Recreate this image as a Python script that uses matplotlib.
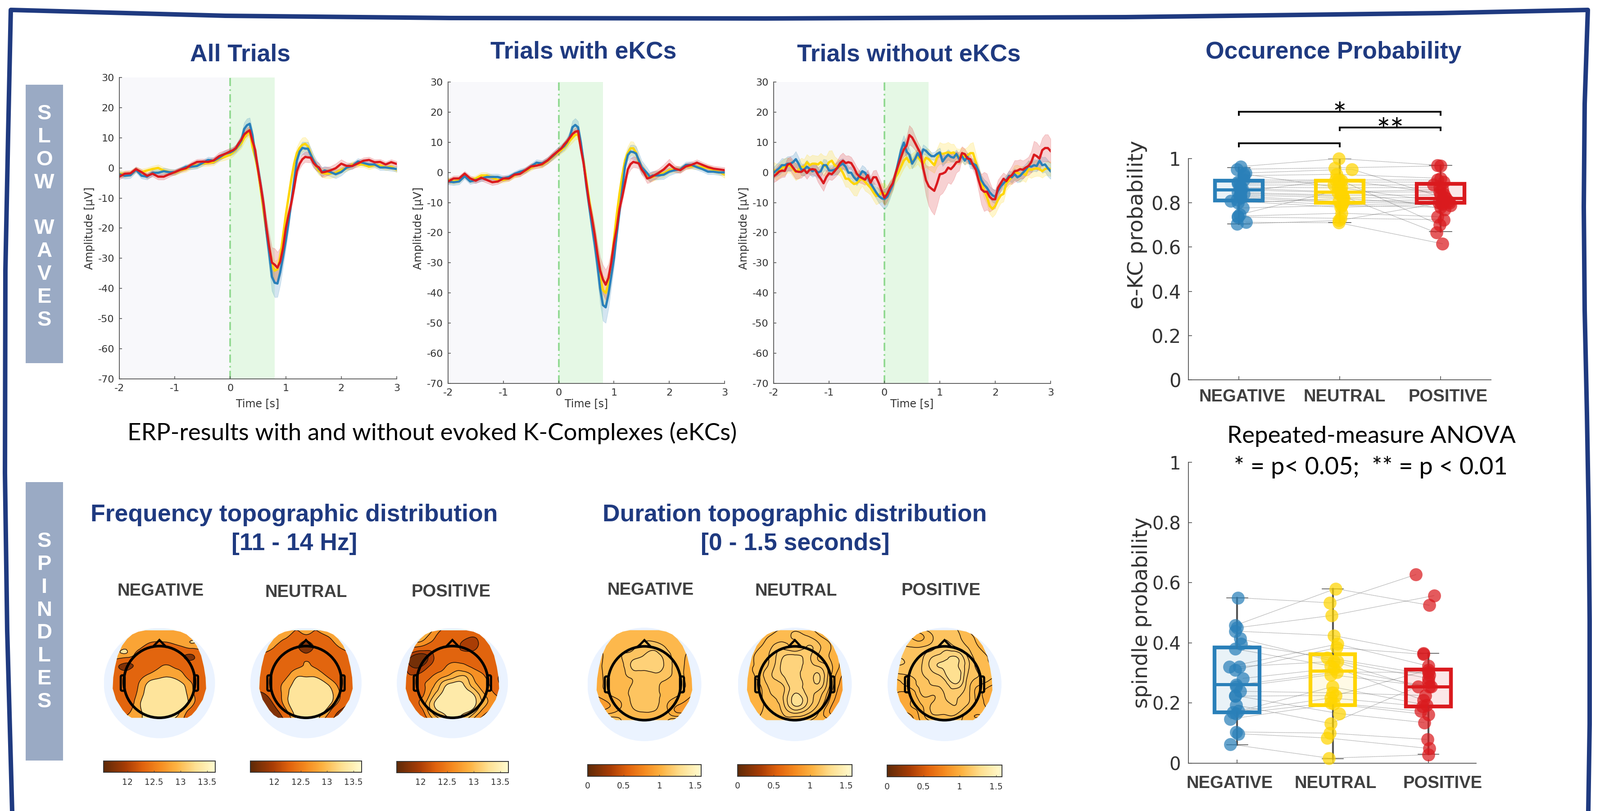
# ERP, occurrence probability and spindle topography summary panel
import numpy as np
import matplotlib
matplotlib.use("Agg")
import matplotlib.pyplot as plt
import matplotlib.tri as mtri
from matplotlib.cm import ScalarMappable
from matplotlib.colors import LinearSegmentedColormap, Normalize
from matplotlib.patches import Ellipse, FancyBboxPatch, PathPatch, Polygon
from matplotlib.path import Path

plt.rcParams['axes.unicode_minus'] = False
plt.rcParams['font.family'] = 'DejaVu Sans'

W, H = 3553, 1800
NAVY = '#1F3A80'
BAND = '#9AAAC4'
DARK = '#404040'
BLUE, YELLOW, RED = '#2A80B9', '#FFD500', '#DA1A1E'
ARIAL = 'Liberation Sans'

conditions = ['NEGATIVE', 'NEUTRAL', 'POSITIVE']

# time grids of the ERP traces [s]
t_coarse = np.r_[np.arange(-20, 0) * 0.1, np.arange(0, 34) * 0.05, np.arange(17, 31) * 0.1]
t_fine = np.arange(101) * 0.05 - 2

# all trials [uV]
all_blue = [-2.1, -2.6, -2.4, -0.6, -2.6, -2.9, -1.6, -1.6, -1.1, -1.4, -1.4, -0.6, 0.4, 0.4, 0.65, 1.65, 2.65, 2.4, 3.4, 4.65,
            5.15, 5.65, 6.4, 7.65, 9.15, 12.9, 14.15, 14.65, 10.9, 4.4, -0.1, -6.1, -12.6, -21.1, -28.1, -36.1, -38.1, -38.35, -34.6, -29.6,
            -24.1, -18.1, -11.1, -4.1, 2.4, 5.4, 6.65, 6.4, 6.4, 4.4, 2.4, 0.9, -0.35, -1.35,
            -0.85, -1.35, -2.1, -1.35, 0.15, 0.65, 2.15, 1.65, 1.15, 1.15, 0.15, 0.15, -0.1, -0.35]
all_yellow = [-1.85, -2.1, -1.85, -0.6, -1.35, -0.85, -0.35, 0.0, -0.85, -1.35, -1.6, -0.85, -0.35, 0.65, 0.9, 1.4, 1.65, 1.9, 3.15, 3.65,
              4.4, 5.15, 6.15, 7.15, 8.15, 9.9, 11.4, 11.9, 6.9, 3.4, -1.1, -7.6, -14.6, -21.1, -27.1, -32.1, -34.1, -33.6, -29.6, -22.6,
              -15.6, -9.6, -3.6, 1.4, 4.9, 6.65, 7.65, 8.0, 7.15, 4.65, 2.4, 0.4, -1.1, -1.6,
              -1.85, -1.85, -1.6, -0.6, -0.1, 1.15, 1.15, 1.15, 0.4, 0.9, 0.9, 0.15, 0.4, -0.6]
all_red = [-2.9, -1.9, -1.8, -0.4, -1.4, -2.6, -1.9, -2.9, -2.9, -2.1, -1.4, -0.6, -0.1, 1.1, 2.0, 2.1, 2.0, 2.5, 3.9, 4.6,
           5.5, 5.9, 6.6, 8.1, 9.4, 11.1, 11.9, 12.5, 8.9, 5.9, -0.6, -6.1, -12.1, -19.6, -26.1, -31.4, -32.1, -33.1, -31.1, -26.6,
           -20.1, -15.6, -11.6, -6.6, -1.1, 1.4, 2.9, 3.65, 3.5, 3.4, 1.65, 0.65, 0.15, -1.5,
           -1.35, -0.85, -0.1, 1.4, 0.65, 0.65, 1.5, 2.4, 2.65, 1.9, 2.0, 1.15, 1.9, 1.3]
all_sem_blue = [1, 1, 1, 0.9, 0.9, 1, 1, 1, 1.1, 1, 0.9, 0.8, 0.8, 0.9, 0.9, 0.9, 1, 1, 1, 1.1,
                1.1, 1.2, 1.3, 1.5, 1.9, 2.1, 2.2, 2.0, 1.6, 1.6, 2, 2.6, 3, 3.6, 4.3, 4.7, 4.8, 4.5, 4.2, 3.5,
                3, 2.5, 2, 1.7, 1.6, 1.8, 2, 2.2, 2.2, 2.2, 2, 1.8, 1.6, 1.5,
                1.4, 1.4, 1.4, 1.2, 1.1, 1, 1, 1, 0.9, 0.9, 0.9, 0.9, 0.9, 0.9]
all_sem_yellow = [1, 1, 0.9, 0.9, 1, 0.9, 1, 1.1, 1, 1, 0.9, 0.9, 1, 1, 0.9, 0.9, 1, 1.1, 1, 1.1,
                  1.2, 1.3, 1.4, 1.5, 1.6, 1.6, 1.5, 1.5, 1.4, 1.5, 1.7, 2, 2.4, 2.8, 3, 3.1, 3.2, 3.2, 3, 2.6,
                  2.4, 2.2, 2, 1.9, 2, 2.2, 2.4, 2.2, 2, 1.8, 1.6, 1.4, 1.3, 1.4,
                  1.5, 1.6, 1.4, 1.1, 1, 1, 0.9, 0.9, 0.9, 0.9, 0.9, 0.9, 0.9, 0.9]
all_sem_red = [0.9, 0.9, 0.9, 0.8, 0.9, 0.9, 1, 1, 1, 0.9, 0.8, 0.8, 0.8, 0.9, 0.9, 0.9, 0.9, 1, 1.2, 1.2,
               1.1, 1.0, 1.0, 1.1, 1.2, 1.3, 1.4, 1.4, 1.3, 1.3, 1.5, 2, 2.6, 3.4, 4.4, 5.0, 5.4, 5.2, 4.6, 3.8,
               3, 2.4, 2, 1.8, 1.7, 1.7, 1.7, 1.7, 1.7, 1.6, 1.6, 1.5, 1.5, 1.6,
               1.6, 1.3, 1.5, 1.4, 1.1, 1, 1, 1, 1, 0.9, 0.9, 0.9, 0.9, 0.9]

# trials with eKCs [uV]
with_blue = [-3, -3.25, -3, -1.25, -3, -2.5, -2, -1.5, -1.5, -1.5, -2, -1.5, -0.5, 0.25, 0.75, 2, 3.25, 3, 4, 5.5,
             7.25, 8, 8.75, 10, 11.75, 15, 15.75, 15, 10, 3.5, -4.5, -11, -17.5, -23.5, -30.5, -38.5, -44, -44.75, -40.5, -34.5,
             -28.5, -20.5, -13, -5.5, 2, 5.75, 6.9, 6.75, 6.25, 4, 1.75, 0.75, -0.25, -1.5,
             -1, -1, -0.75, 0.25, 0.75, 1, 2.5, 2.5, 1.75, 1.1, 0.25, 0.25, 0, 0]
with_yellow = [-2.5, -3, -2.5, -1, -2.5, -2, -1, -1, -1.75, -2.5, -2.5, -2, -1, -0.25, 0.5, 1.5, 2.5, 2.5, 3.75, 5.25,
               6.75, 7.5, 8.25, 9.25, 10.5, 11.5, 12.5, 12.5, 8.5, 4, -2.5, -9, -15, -21, -28, -35, -39, -40, -37, -30,
               -22, -14, -7, -1, 4, 6.5, 8, 8, 6.5, 3.5, 1.5, 0.5, -1, -1.75,
               -1.5, -0.75, -0.25, 0.75, 1, 1, 2, 2, 2, 1.75, 1.5, 0.75, 0.25, -0.75]
with_red = [-3, -2, -2, -0.4, -2, -2.75, -1.75, -2.5, -3.25, -3, -2, -2, -0.75, -0.5, 0.75, 2, 2.25, 2.75, 4, 5.75,
            7.25, 8, 9.25, 10.25, 11.5, 12.75, 13.5, 13.75, 8, 3, -3.5, -10, -15, -20.5, -27, -32.5, -35.5, -37.25, -35, -30,
            -23.5, -18.5, -12, -8, -3.5, 1, 2.75, 3.5, 3.25, 3, 1, -0.25, -2, -1.75,
            -1.25, -0.25, 1, 2.75, 1.25, 0.75, 2, 2.5, 3.25, 2.5, 1.75, 1.25, 1, 0.75]
with_sem_blue = [1, 1, 1, 0.9, 0.9, 0.9, 1, 1, 1, 1, 0.9, 0.8, 0.8, 0.9, 0.9, 0.9, 1, 1, 1, 1.2,
                 1.3, 1.3, 1.4, 1.5, 1.8, 2.1, 2.2, 2.0, 1.7, 1.6, 2, 2.6, 3.2, 3.8, 4.4, 4.9, 5.2, 5.2, 4.8, 4,
                 3.2, 2.6, 2.1, 1.8, 1.7, 1.9, 2.2, 2.4, 2.4, 2.4, 2.2, 2, 1.8, 1.6,
                 1.4, 1.4, 1.5, 1.3, 1.1, 1, 1, 1.1, 0.9, 0.9, 0.9, 0.9, 0.9, 0.9]
with_sem_yellow = [0.9, 0.9, 0.9, 0.8, 0.9, 0.9, 1, 1, 0.9, 1, 0.9, 0.9, 0.9, 1, 0.9, 0.9, 1, 1, 1, 1.1,
                   1.2, 1.2, 1.3, 1.4, 1.5, 1.6, 1.6, 1.5, 1.4, 1.5, 1.7, 2.2, 2.8, 3.4, 4, 4.5, 4.8, 4.8, 4.4, 3.6,
                   3, 2.6, 2.2, 2, 2, 2.1, 2.3, 2.2, 2, 1.7, 1.5, 1.4, 1.3, 1.3,
                   1.4, 1.4, 1.3, 1.1, 1, 1, 0.9, 0.9, 0.9, 0.9, 0.9, 0.9, 0.9, 1.1]
with_sem_red = [0.9, 0.9, 0.9, 0.8, 0.9, 0.9, 1, 1, 1, 0.9, 0.9, 0.8, 0.8, 0.9, 0.9, 0.9, 0.9, 1, 1.1, 1.1,
                1.1, 1.0, 1.0, 1.1, 1.2, 1.2, 1.3, 1.3, 1.2, 1.3, 1.5, 2, 2.6, 3.2, 3.8, 4.4, 4.8, 5, 4.6, 3.8,
                3, 2.4, 2, 1.8, 1.8, 1.8, 1.8, 1.8, 1.7, 1.7, 1.7, 1.6, 1.6, 1.6,
                1.5, 1.3, 1.6, 1.7, 1.1, 1, 1, 1, 1, 0.9, 0.9, 0.9, 0.9, 0.9]

# trials without eKCs [uV]
without_blue = [-0.1, 0.65, 1.4, 2.4, 2.4, 2.9, 2.9, 3.4, 4.4, 2.9, 0.9, 0.9, 1.9, 1.15, 0.4, 0.9, -0.1, 0.4, 2.4, 2.4,
                0.65, 0.65, 0.9, 1.4, 2.4, 2.9, 1.9, -0.1, -0.1, -1.6, -2.6, -1.1, 0.4, -0.1, -1.6, -3.6, -5.1, -6.6, -7.85, -8.6,
                -8.85, -8.1, -6.1, -4.1, -0.6, 3.4, 7.4, 9.9, 6.9, 5.9, 2.9, 4.4, 6.4, 4.9, 7.65, 7.15, 6.15, 5.4, 5.4, 6.15,
                6.65, 3.65, 4.9, 5.9, 5.15, 4.9, 6.15, 4.4, 5.4, 3.9, 5.15, 2.9, 2.9, 2.4, 0.4, -2.6, -4.1, -5.1, -6.6, -7.6,
                -8.1, -6.1, -4.6, -3.6, -2.6, -1.1, -1.6, -0.6, -1.6, -1.1, -0.1, 0.9, 2.15, 1.9, 2.4, 2.15, 3.9, 2.4, 2.65, 1.4, 0.4]
without_yellow = [0.9, 0.15, 0.65, 1.4, 1.9, 2.4, 2.15, 1.15, 0.15, 0.9, 1.9, 1.65, 3.4, 2.4, 2.9, 2.9, 2.65, 3.4, 2.4, 1.9,
                  3.4, 3.9, 2.4, 1.9, 1.4, -0.1, -2.1, -2.1, -3.1, -3.85, -3.6, -2.6, -2.1, -3.1, -4.1, -5.1, -6.6, -7.85, -7.6, -6.6,
                  -7.1, -7.6, -5.6, -4.1, -1.6, -0.1, 1.9, 3.9, 4.9, 3.4, 3.9, 4.4, 5.4, 3.9, 2.9, 4.9, 4.4, 3.4, 2.4, 4.9,
                  6.4, 6.15, 6.4, 6.65, 6.4, 6.65, 5.4, 5.15, 5.9, 5.15, 5.65, 6.4, 6.4, 3.4, -0.1, -3.1, -6.1, -8.1, -11.1, -12.1,
                  -11.1, -9.1, -7.6, -7.1, -3.6, -2.6, -1.6, -0.1, -0.1, -0.6, -0.35, -0.85, 1.15, 0.9, 1.15, 1.4, 1.15, 0.4, 1.15, 1.4, 1.15]
without_red = [-1.3, -0.6, 0.3, 0.6, 0.5, 2.6, 2.9, 1.6, 0.4, 0.2, 0.2, 0.9, -0.2, 0.9, 1.1, 0.9, -0.8, -2.1, -3.6, -1.6,
               -0.3, -0.6, 0.4, 1.6, 3.1, 3.9, 3.1, 3.4, 3.1, 1.6, -0.4, -1.4, -1.9, -2.4, -0.9, -3.4, -1.6, -1.6, -3.6, -6.1,
               -8.4, -7.1, -5.1, -3.6, -0.4, 2.4, 5.1, 7.6, 8.9, 12.4, 11.6, 9.9, 8.1, 6.4, 1.4, -2.6, -4.6, -5.4, -6.1, -3.6,
               -0.6, -0.4, 0.1, 1.6, 1.1, 2.1, 3.4, 3.6, 6.4, 6.1, 4.6, 4.4, 2.4, 0.9, -2.6, -5.6, -6.4, -6.4, -8.1, -8.9,
               -8.9, -5.1, -3.6, -2.1, -2.9, -1.6, -0.9, 0.4, 0.6, 1.1, 0.9, 1.6, 2.1, 3.4, 5.9, 5.4, 4.6, 7.4, 8.1, 8.1, 7.1]
without_sem_blue = [1.8, 2.0, 2.2, 2.3, 2.1, 2.4, 2.5, 2.3, 2.6, 2.2, 1.9, 2.0, 2.2, 1.8, 1.9, 2.0, 1.8, 1.9, 2.0, 1.8,
                    1.6, 1.7, 1.8, 2.0, 1.9, 1.8, 1.7, 1.9, 2.0, 1.8, 1.7, 1.9, 2.0, 1.8, 1.7, 2.0, 2.1, 2.0, 2.3, 2.6,
                    3.4, 3.0, 2.6, 1.8, 1.7, 1.6, 2.2, 2.4, 2.2, 2.0, 1.7, 1.8, 1.6, 1.5, 1.6, 1.4, 1.3, 1.2, 1.3, 1.4,
                    1.5, 1.6, 1.8, 1.7, 1.6, 1.5, 1.4, 1.5, 1.6, 1.4, 1.5, 1.6, 1.7, 1.8, 1.7, 1.6, 1.8, 2.0, 2.0, 2.2,
                    2.2, 2.0, 1.8, 1.7, 1.6, 1.7, 1.8, 1.9, 1.8, 2.0, 2.0, 1.9, 1.8, 1.9, 2.0, 1.9, 2.2, 2.6, 2.5, 2.7, 2.6]
without_sem_yellow = [2.5, 2.7, 2.4, 2.6, 2.8, 2.5, 2.3, 2.6, 2.8, 3.0, 2.9, 2.7, 2.6, 2.8, 2.9, 2.7, 2.8, 3.0, 3.2, 3.5,
                      3.8, 3.4, 2.9, 2.6, 2.5, 2.6, 2.7, 2.8, 3.2, 3.8, 4.2, 3.2, 2.4, 3.0, 2.6, 2.4, 2.6, 2.8, 2.6, 3.0,
                      3.6, 3.0, 2.5, 2.2, 2.0, 2.2, 2.4, 2.6, 2.2, 2.2, 2.4, 2.6, 2.6, 2.4, 2.2, 3.0, 3.4, 3.0, 2.6, 3.0,
                      3.6, 3.4, 3.2, 3.4, 3.0, 2.8, 2.6, 2.6, 2.4, 2.6, 2.8, 3.2, 3.6, 3.0, 2.4, 2.2, 2.4, 2.4, 2.6, 2.8,
                      2.8, 2.8, 2.6, 2.6, 2.4, 2.2, 2.2, 2.4, 2.6, 2.6, 2.4, 2.4, 2.6, 2.8, 2.6, 2.6, 2.4, 2.2, 2.2, 2.4, 2.4]
without_sem_red = [2.0, 2.2, 2.4, 2.2, 2.0, 2.1, 2.3, 2.4, 2.6, 2.2, 2.0, 1.8, 2.0, 1.8, 1.9, 2.0, 2.4, 2.6, 2.6, 2.2,
                   2.0, 2.0, 2.2, 2.4, 2.6, 2.6, 2.4, 2.2, 2.0, 2.0, 2.2, 2.0, 1.8, 1.8, 1.8, 2.0, 2.2, 2.4, 2.2, 2.4,
                   2.6, 2.4, 2.2, 2.0, 1.6, 1.6, 1.8, 2.4, 3.0, 3.2, 3.0, 2.4, 2.0, 2.0, 3.6, 5.0, 6.5, 7.5, 8.0, 7.5,
                   7.0, 6.5, 5.5, 5.0, 5.0, 4.5, 3.5, 3.0, 2.2, 1.8, 1.6, 1.6, 1.6, 2.2, 3.5, 5.0, 6.5, 6.0, 5.0, 3.5,
                   3.0, 2.6, 2.4, 2.0, 2.0, 2.2, 3.0, 3.6, 3.4, 3.2, 3.0, 2.8, 3.0, 3.5, 4.5, 4.5, 4.0, 4.0, 4.5, 4.5, 4.0]

# e-KC probability per subject, same order in the three conditions
ekc_neg = [.964, .952, .935, .93, .923, .905, .894, .888, .882, .87, .865, .858, .85, .847, .841, .835, .83, .823, .815, .809, .80, .777, .747, .74, .736, .712, .704]
ekc_neu = [1.0, .958, .952, .87, .929, .905, .90, .894, .882, .87, .85, .847, .906, .835, .83, .823, .806, .80, .79, .78, .82, .788, .86, .753, .73, .71, .72]
ekc_pos = [.97, .967, .82, .80, .911, .905, .70, .894, .882, .87, .86, .85, .84, .835, .665, .823, .815, .806, .80, .794, .788, .78, .77, .738, .724, .615, .80]
ekc_jit_neg = [.02, -.02, .065, .05, .05, .05, -.01, -.01, .01, .02, .03, .02, .02, -.01, .05, .01, .02, .02, -.02, -.08, -.01, .04, .01, -.01, -.01, .07, -.02]
ekc_jit_neu = [-.01, -.05, .12, -.02, -.03, -.04, .02, -.01, -.06, .02, .01, -.02, -.01, .01, .03, .03, -.01, .03, .02, .01, .04, .02, .01, .02, .01, -.01, -.01]
ekc_jit_pos = [-.03, 0, .05, .09, 0, -.03, -.01, .03, -.07, -.01, .02, -.01, .03, 0, -.04, .05, .02, .08, -.02, .02, .1, 0, .04, -.03, .03, .02, .01]
ekc_stats = {'q1': [.81, .80, .80], 'med': [.86, .85, .82], 'q3': [.90, .90, .885], 'lo': [.705, .71, .67], 'hi': [.96, 1.0, .97]}

# spindle probability per subject
spi_neg = [.55, .458, .45, .439, .414, .396, .38, .321, .321, .31, .282, .26, .254, .239, .225, .223, .193, .173, .169, .165, .147, .104, .098, .063]
spi_neu = [.533, .58, .491, .424, .339, .351, .323, .396, .339, .384, .315, .303, .294, .234, .165, .225, .132, .254, .217, .201, .197, .10, .084, .017]
spi_pos = [.627, .525, .557, .366, .254, .294, .209, .323, .282, .362, .254, .302, .254, .225, .135, .31, .27, .193, .189, .173, .161, .079, .049, .028]
spi_jit_neg = [.006, -.02, 0, -.02, .03, .04, -.02, -.08, .02, -.02, .06, -.01, -.01, .03, -.02, -.02, -.01, .015, -.045, -.01, -.07, -.01, .015, -.07]
spi_jit_neu = [-.03, .03, -.01, .01, .01, -.06, -.02, .05, .05, .04, .01, .045, -.02, -.005, .07, .03, -.02, -.005, -.02, -.02, .01, -.03, -.06, -.04]
spi_jit_pos = [-.13, .01, .06, -.05, -.11, .01, -.05, 0, 0, -.05, .01, 0, .03, -.03, -.04, 0, 0, -.02, -.06, -.08, 0, -.01, .01, 0]
spi_stats = {'q1': [.169, .193, .189], 'med': [.262, .307, .255], 'q3': [.384, .363, .312], 'lo': [.062, .015, .03], 'hi': [.55, .58, .366]}

# topographic maps: values on a 9 x 11 scalp grid, top row = front of the head
grid_x = [-.92, -.6, -.4, -.2, 0, .2, .4, .6, .92]
grid_y = [1.0, .83, .66, .49, .32, .15, -.02, -.19, -.36, -.53, -.70]

freq_neg = [[12.9, 12.9, 12.9, 12.9, 12.9, 12.9, 12.9, 12.9, 12.9],
            [12.9, 12.9, 12.9, 12.85, 12.8, 12.85, 12.9, 12.9, 12.9],
            [12.9, 12.9, 12.75, 12.5, 12.4, 12.45, 12.6, 12.8, 12.9],
            [12.85, 12.8, 12.45, 12.35, 12.3, 12.3, 12.1, 11.95, 12.85],
            [12.7, 11.85, 12.2, 12.35, 12.55, 12.6, 12.4, 12.3, 12.65],
            [12.35, 12.3, 12.35, 12.65, 12.85, 12.9, 12.7, 12.4, 12.35],
            [12.3, 12.3, 12.55, 13.05, 13.2, 13.2, 13.05, 12.6, 12.3],
            [12.3, 12.3, 12.65, 13.2, 13.4, 13.4, 13.25, 12.65, 12.3],
            [12.3, 12.3, 12.8, 13.3, 13.5, 13.5, 13.25, 12.7, 12.2],
            [12.05, 12.5, 12.85, 13.2, 13.5, 13.2, 12.9, 12.2, 11.8],
            [12.8, 12.85, 12.9, 13.2, 13.4, 13.0, 12.85, 11.6, 11.6]]
freq_neu = [[12.9, 12.9, 12.9, 12.7, 12.6, 12.7, 12.9, 12.9, 12.9],
            [12.9, 12.9, 12.7, 12.45, 12.4, 12.45, 12.6, 12.9, 12.9],
            [12.9, 12.7, 12.4, 12.3, 11.6, 12.3, 12.4, 12.65, 12.9],
            [12.6, 12.35, 12.3, 12.3, 12.3, 12.3, 12.3, 12.3, 12.55],
            [12.35, 12.3, 12.3, 12.45, 12.65, 12.5, 12.3, 12.3, 12.3],
            [12.3, 12.3, 12.4, 12.85, 12.9, 12.85, 12.5, 12.3, 12.3],
            [12.3, 12.3, 12.7, 13.05, 13.2, 13.2, 12.95, 12.5, 12.3],
            [11.9, 12.2, 12.75, 13.2, 13.4, 13.4, 13.2, 12.65, 12.0],
            [11.6, 12.0, 12.7, 13.25, 13.5, 13.5, 13.15, 12.5, 11.7],
            [11.6, 11.7, 12.3, 13.1, 13.5, 13.25, 12.7, 11.9, 11.6],
            [11.6, 11.6, 11.9, 12.85, 13.4, 13.0, 12.2, 11.6, 11.6]]
freq_pos = [[12.9, 12.9, 12.9, 12.6, 12.3, 12.3, 12.3, 12.3, 12.3],
            [12.9, 12.9, 12.7, 12.3, 12.3, 12.2, 12.1, 12.3, 12.3],
            [12.9, 12.5, 12.3, 12.3, 12.3, 12.0, 12.0, 12.3, 12.3],
            [12.3, 11.7, 11.95, 12.3, 12.3, 12.3, 12.3, 12.3, 12.3],
            [12.25, 11.75, 12.1, 12.35, 12.6, 12.55, 12.4, 12.3, 12.3],
            [12.2, 12.15, 12.4, 12.65, 12.85, 12.95, 12.7, 12.45, 12.0],
            [12.1, 12.35, 12.65, 13.0, 13.2, 13.15, 12.85, 12.6, 11.9],
            [12.2, 12.3, 12.8, 13.15, 13.4, 13.35, 13.1, 12.75, 12.3],
            [12.3, 12.5, 13.0, 13.35, 13.5, 13.5, 13.2, 12.85, 12.4],
            [12.0, 12.2, 12.9, 13.15, 13.3, 13.2, 13.0, 12.55, 12.0],
            [11.9, 12.0, 12.5, 13.0, 13.1, 13.05, 12.6, 12.1, 11.8]]
dur_neg = [[1.05, 1.05, 1.05, 1.07, 1.07, 1.07, 1.05, 1.05, 1.05],
           [1.0, 1.05, 1.07, 1.07, 1.08, 1.07, 1.07, 1.05, 1.0],
           [.98, 1.06, 1.08, 1.09, 1.13, 1.14, 1.09, 1.06, 1.0],
           [.97, 1.06, 1.1, 1.14, 1.18, 1.2, 1.13, 1.06, .98],
           [.95, 1.06, 1.08, 1.19, 1.2, 1.21, 1.14, 1.06, .96],
           [.95, 1.06, 1.08, 1.12, 1.14, 1.15, 1.12, 1.06, .95],
           [.95, 1.06, 1.07, 1.11, 1.15, 1.12, 1.07, 1.06, .96],
           [.93, 1.03, 1.07, 1.12, 1.15, 1.12, 1.07, 1.03, .93],
           [.88, .95, 1.03, 1.11, 1.14, 1.12, 1.03, .95, .88],
           [.95, 1.05, 1.07, 1.08, 1.09, 1.08, 1.05, .98, .95],
           [1.2, 1.25, 1.1, 1.07, 1.1, 1.07, 1.1, 1.4, 1.5]]
dur_neu = [[.97, 1.0, 1.03, 1.05, 1.07, 1.05, 1.03, 1.0, .97],
           [1.0, 1.03, 1.06, 1.08, 1.11, 1.11, 1.07, 1.03, .98],
           [1.0, 1.05, 1.1, 1.13, 1.1, 1.15, 1.12, 1.06, .98],
           [1.03, 1.07, 1.12, 1.2, 1.22, 1.18, 1.1, 1.05, .97],
           [1.04, 1.07, 1.13, 1.22, 1.24, 1.18, 1.15, 1.08, .95],
           [1.06, 1.08, 1.15, 1.2, 1.24, 1.17, 1.21, 1.08, .92],
           [1.04, 1.05, 1.12, 1.15, 1.24, 1.18, 1.19, 1.06, .9],
           [1.03, 1.04, 1.1, 1.15, 1.26, 1.2, 1.13, 1.02, .88],
           [1.03, 1.04, 1.07, 1.14, 1.26, 1.2, 1.1, .98, .85],
           [1.03, 1.05, 1.07, 1.1, 1.13, 1.1, 1.05, .96, .97],
           [1.05, 1.05, 1.05, 1.07, 1.05, 1.05, 1.03, 1.1, 1.1]]
dur_pos = [[1.05, 1.07, 1.12, 1.14, 1.12, 1.1, 1.05, 1.03, 1.0],
           [1.08, 1.05, 1.04, 1.1, 1.14, 1.12, 1.07, 1.04, 1.0],
           [1.13, 1.1, 1.1, 1.13, 1.18, 1.15, 1.1, 1.05, 1.03],
           [1.15, 1.13, 1.14, 1.2, 1.23, 1.25, 1.15, 1.07, 1.05],
           [1.15, 1.14, 1.15, 1.23, 1.26, 1.26, 1.17, 1.08, 1.05],
           [1.07, 1.1, 1.14, 1.18, 1.23, 1.3, 1.15, 1.1, 1.05],
           [1.0, 1.07, 1.12, 1.15, 1.17, 1.23, 1.13, 1.05, .98],
           [1.02, 1.0, 1.1, 1.1, 1.15, 1.16, 1.12, 1.02, .93],
           [.98, 1.0, 1.05, 1.11, 1.13, 1.15, 1.1, 1.03, .93],
           [.92, .95, 1.03, 1.1, 1.1, 1.1, 1.03, 1.0, 1.03],
           [.9, .92, 1.0, 1.03, 1.07, 1.07, 1.03, 1.03, 1.03]]

levels_two = [11.5, 12.0, 12.62, 12.98, 13.7]
levels_many = [11.5, 11.85, 12.1, 12.5, 12.8, 12.98, 13.15, 13.7]
levels_dur = [.85, .95, 1.03, 1.1, 1.17, 1.25, 1.35, 1.45, 1.58]
levels_dur_fine = [.85, .95, 1.0, 1.05, 1.1, 1.15, 1.2, 1.25, 1.35, 1.45, 1.58]
freq_ticks = [12, 12.5, 13, 13.5]
dur_ticks = [0, .5, 1, 1.5]

topo_cmap = LinearSegmentedColormap.from_list('topo', [(0, '#5E2A08'), (.2, '#A83C05'), (.35, '#E0620D'), (.5, '#F58A1F'),
                                                       (.65, '#FDB241'), (.82, '#FEDF90'), (1, '#FFFBD0')])

fig = plt.figure(figsize=(W / 100, H / 100), dpi=100, facecolor='white')


def ax_px(x0, y0, x1, y1, **kw):
    return fig.add_axes([x0 / W, 1 - y1 / H, (x1 - x0) / W, (y1 - y0) / H], **kw)


# overlay in pixel coordinates for the frame and the free text
ov = fig.add_axes([0, 0, 1, 1], zorder=10, facecolor='none')
ov.set_xlim(0, W)
ov.set_ylim(H, 0)
ov.axis('off')


def label(x, y, s, **kw):
    ov.text(x, y, s, ha='center', va='center', **kw)


frame_x = [27, 16, 11, 12, 18, 24, 500, 1000, 1700, 2500, 3200, 3526, 3519, 3517, 3519, 3524, 3528, 3530, 3530, 3527]
frame_y = [1800, 1400, 1050, 600, 300, 22, 35, 40, 41, 38, 29, 22, 230, 459, 689, 918, 1148, 1378, 1607, 1800]
ov.plot(frame_x, frame_y, color=NAVY, lw=7.2, solid_joinstyle='round')

ov.add_patch(plt.Rectangle((57, 188), 83, 618, color=BAND, lw=0))
ov.add_patch(plt.Rectangle((57, 1070), 83, 618, color=BAND, lw=0))
label(98.5, 482, 'S\nL\nO\nW\n\nW\nA\nV\nE\nS', color='white', family=ARIAL, weight='bold', fontsize=34, linespacing=1.2)
label(98.5, 1380, 'S\nP\nI\nN\nD\nL\nE\nS', color='white', family=ARIAL, weight='bold', fontsize=34, linespacing=1.2)


def erp_panel(rect, blue, yellow, red, sem_b, sem_y, sem_r, t):
    ax = ax_px(*rect)
    ax.axvspan(-2, 0, color='#F8F8FB', lw=0, zorder=0)
    ax.axvspan(0, .8, color='#E5F8E5', lw=0, zorder=0)
    ax.axvline(0, color='#8FD88F', lw=2.6, ls=(0, (5, 2, 1, 2)), zorder=1)
    for y, s, c in ((yellow, sem_y, YELLOW), (blue, sem_b, BLUE), (red, sem_r, RED)):
        y, s = np.array(y), np.array(s)
        ax.fill_between(t, y - s, y + s, color=c, alpha=.2, lw=.8)
    for y, c in ((yellow, YELLOW), (blue, BLUE), (red, RED)):
        ax.plot(t, y, color=c, lw=3.6, solid_joinstyle='round')
    ax.set_xlim(-2, 3)
    ax.set_ylim(-70, 30)
    ax.set_xticks(range(-2, 4))
    ax.set_yticks(range(-70, 31, 10))
    ax.tick_params(direction='in', length=4, width=1.2, labelsize=16, labelcolor='#333333', color='#555555', pad=8)
    for side in ('top', 'right'):
        ax.spines[side].set_visible(False)
    for side in ('left', 'bottom'):
        ax.spines[side].set_color('#555555')
        ax.spines[side].set_linewidth(1.3)
    ax.set_xlabel('Time [s]', fontsize=17, color='#333333', va='center')
    ax.set_ylabel('Amplitude [µV]', fontsize=17.5, color='#333333', va='center')
    ax.xaxis.set_label_coords(rect[0] + 307, 896, transform=ov.transData)
    ax.yaxis.set_label_coords(rect[0] - 66, 507, transform=ov.transData)
    return ax


erp_panel((265, 172, 881, 841), all_blue, all_yellow, all_red, all_sem_blue, all_sem_yellow, all_sem_red, t_coarse)
erp_panel((995, 182, 1609, 851), with_blue, with_yellow, with_red, with_sem_blue, with_sem_yellow, with_sem_red, t_coarse)
erp_panel((1718, 182, 2333, 851), without_blue, without_yellow, without_red, without_sem_blue, without_sem_yellow, without_sem_red, t_fine)

title_kw = dict(color=NAVY, family=ARIAL, weight='bold', fontsize=38.5)
label(533, 122, 'All Trials', **title_kw)
label(1296, 116, 'Trials with eKCs', **title_kw)
label(2018, 121, 'Trials without eKCs', **title_kw)
label(2961, 116, 'Occurence Probability', **title_kw)
label(960, 961, 'ERP-results with and without evoked K-Complexes (eKCs)', color='black', family='Lato', fontsize=38.2)


def prob_panel(rect, xlim, neg, neu, pos, jit, stats, ylabel, ylab_x, ylab_y, fsize, lab_size):
    ax = ax_px(*rect, facecolor='none')
    xs = [1 + np.array(jit[0]), 2 + np.array(jit[1]), 3 + np.array(jit[2])]
    for i in range(len(neg)):
        ax.plot([xs[0][i], xs[1][i], xs[2][i]], [neg[i], neu[i], pos[i]], color='#777777', lw=.9, ls=(0, (1, 1)), zorder=1)
    for k, c in enumerate((BLUE, YELLOW, RED)):
        stat = dict(med=stats['med'][k], q1=stats['q1'][k], q3=stats['q3'][k], whislo=stats['lo'][k], whishi=stats['hi'][k], fliers=[])
        ax.bxp([stat], positions=[k + 1], widths=.47, capwidths=.22, showfliers=False, patch_artist=True, manage_ticks=False,
               boxprops=dict(edgecolor=c, facecolor=matplotlib.colors.to_rgba(c, .1), lw=6),
               medianprops=dict(color=c, lw=5, solid_capstyle='butt'),
               whiskerprops=dict(color='#555555', lw=3),
               capprops=dict(color='#555555', lw=1.2), zorder=2)
        ax.scatter(xs[k], (neg, neu, pos)[k], s=430, color=c, alpha=.72, lw=0, zorder=3)
    ax.set_xlim(*xlim)
    ax.set_ylim(0, 1)
    ax.set_xticks([1, 2, 3])
    ax.set_xticklabels([])
    ax.set_yticks([0, .2, .4, .6, .8, 1])
    ax.set_yticklabels(['0', '0.2', '0.4', '0.6', '0.8', '1'])
    ax.tick_params(direction='in', length=6, width=1.2, labelsize=fsize, labelcolor='#333333', color='#555555', pad=12)
    for side in ('top', 'right'):
        ax.spines[side].set_visible(False)
    for side in ('left', 'bottom'):
        ax.spines[side].set_color('#555555')
        ax.spines[side].set_linewidth(1.3)
    for sp in ax.collections:
        sp.set_clip_on(False)
    ax.set_ylabel(ylabel, fontsize=lab_size, color='#333333', va='center')
    ax.yaxis.set_label_coords(ylab_x, ylab_y, transform=ov.transData)
    return ax


ax_ekc = prob_panel((2639, 352, 3311, 843), (.5, 3.5), ekc_neg, ekc_neu, ekc_pos, (ekc_jit_neg, ekc_jit_neu, ekc_jit_pos),
                    ekc_stats, 'e-KC probability', 2526, 499, 30, 34)
ax_spi = prob_panel((2639, 1026, 3278, 1694), (.49, 3.5), spi_neg, spi_neu, spi_pos, (spi_jit_neg, spi_jit_neu, spi_jit_pos),
                    spi_stats, 'spindle probability', 2536, 1360, 29, 33)

# significance brackets
for x0, x1, y in ((1, 3, 1.212), (2, 3, 1.1415), (1, 2, 1.07)):
    ax_ekc.plot([x0, x0, x1, x1], [y - .014, y, y, y - .014], color='black', lw=2.8, clip_on=False, solid_joinstyle='miter')
ax_ekc.text(2, 1.19, '*', ha='center', va='center', fontsize=52, family='Lato', color='black')
ax_ekc.text(2.5, 1.12, '**', ha='center', va='center', fontsize=52, family='Lato', color='black')

for x, s in zip((2759, 2986, 3215), conditions):
    label(x, 881, s, color=DARK, family=ARIAL, weight='bold', fontsize=27.5)
for x, s in zip((2731, 2966, 3203), conditions):
    label(x, 1739, s, color=DARK, family=ARIAL, weight='bold', fontsize=27.5)
label(3045, 969, 'Repeated-measure ANOVA', color='black', family='Lato', fontsize=38)
label(3044, 1037, '* = p< 0.05;  ** = p < 0.01', color='black', family='Lato', fontsize=39)

# scalp outline of the coloured area, half widths at each height
scalp_y = [.955, .93, .88, .80, .68, .50, .29, .10, -.10, -.30, -.49, -.58, -.63]
scalp_w = [.25, .38, .49, .58, .67, .75, .80, .83, .84, .78, .66, .58, .50]
xx, yy = np.meshgrid(grid_x, grid_y)
tri_base = mtri.Triangulation(xx.ravel(), yy.ravel())
refiner = mtri.UniformTriRefiner(tri_base)
outline = list(zip(scalp_w, scalp_y)) + [(-w, y) for w, y in zip(scalp_w[::-1], scalp_y[::-1])]


def topo(cx, half, top, bottom, values, levels, vmin, vmax):
    ax = ax_px(cx - half, top, cx + half, bottom, facecolor='none')
    ax.set_xlim(-1, 1)
    ax.set_ylim(-1, 1)
    ax.axis('off')
    ax.add_patch(Ellipse((0, 0), 2, 2, color='#EBF3FF', lw=0, zorder=0))
    clip = PathPatch(Path(outline + [outline[0]], closed=True), facecolor='none', lw=0)
    ax.add_patch(clip)
    tri_ref, z_ref = refiner.refine_field(np.array(values).ravel(), subdiv=3)
    z_ref = np.clip(z_ref, levels[0] + 1e-3, levels[-1] - 1e-3)
    norm = Normalize(vmin, vmax)
    filled = ax.tricontourf(tri_ref, z_ref, levels, cmap=topo_cmap, norm=norm, zorder=1)
    filled.set_clip_path(clip)
    lines = ax.tricontour(tri_ref, z_ref, levels[1:-1], colors='#201008', linewidths=1.1, zorder=2)
    lines.set_clip_path(clip)
    ax.add_patch(Ellipse((0, .02), 1.28, 1.30, fill=False, ec='black', lw=4.2, zorder=4))
    ax.add_patch(Polygon([(-.11, .665), (0, .78), (.11, .665)], closed=False, fill=False, ec='black', lw=3.4, zorder=4))
    for side in (-1, 1):
        ax.add_patch(FancyBboxPatch((side * .66 - .035, -.14), .07, .28, boxstyle='round,pad=0,rounding_size=.03',
                                    fill=False, ec='black', lw=3.4, zorder=4))


def cbar(x0, x1, y0, y1, vmin, vmax, ticks, labels):
    cax = ax_px(x0, y0, x1, y1)
    cb = fig.colorbar(ScalarMappable(Normalize(vmin, vmax), topo_cmap), cax=cax, orientation='horizontal', ticks=ticks)
    cb.ax.set_xticklabels(labels)
    cb.ax.tick_params(direction='in', length=3, width=.8, labelsize=13.5, labelcolor='#333333', pad=9, color='#444444')
    cb.outline.set_linewidth(1.4)
    cb.outline.set_edgecolor('#333333')


freq_maps = (freq_neg, freq_neu, freq_pos)
freq_lev = (levels_two, levels_two, levels_many)
for cx, m, lev in zip((354, 679.5, 1004.6), freq_maps, freq_lev):
    topo(cx, 123.5, 1393.5, 1638.5, m, lev, 11.546, 13.656)
dur_lev = (levels_dur, levels_dur_fine, levels_dur_fine)
for cx, m, lev in zip((1431, 1765, 2097.5), (dur_neg, dur_neu, dur_pos), dur_lev):
    topo(cx, 126.5, 1393, 1645, m, lev, 0, 1.58)

for (x0, x1, y0, y1) in ((230, 478, 1689, 1714), (556, 803, 1689, 1714), (881, 1129, 1690, 1715)):
    cbar(x0, x1, y0, y1, 11.546, 13.656, freq_ticks, ['12', '12.5', '13', '13.5'])
for (x0, x1, y0, y1) in ((1305, 1557, 1697, 1723), (1638, 1892, 1697, 1723), (1970, 2225, 1698, 1724)):
    cbar(x0, x1, y0, y1, 0, 1.58, dur_ticks, ['0', '0.5', '1', '1.5'])

label(653, 1143, 'Frequency topographic distribution', **title_kw)
label(654, 1207, '[11 - 14 Hz]', **title_kw)
label(1765, 1143, 'Duration topographic distribution', **title_kw)
label(1766, 1207, '[0 - 1.5 seconds]', **title_kw)
for x, y, s in zip((357, 680, 1002), (1312, 1315, 1314), conditions):
    label(x, y, s, color=DARK, family=ARIAL, weight='bold', fontsize=27.5)
for x, y, s in zip((1445, 1768, 2090), (1310, 1312, 1311), conditions):
    label(x, y, s, color=DARK, family=ARIAL, weight='bold', fontsize=27.5)

fig.savefig('out.png', dpi=100)
